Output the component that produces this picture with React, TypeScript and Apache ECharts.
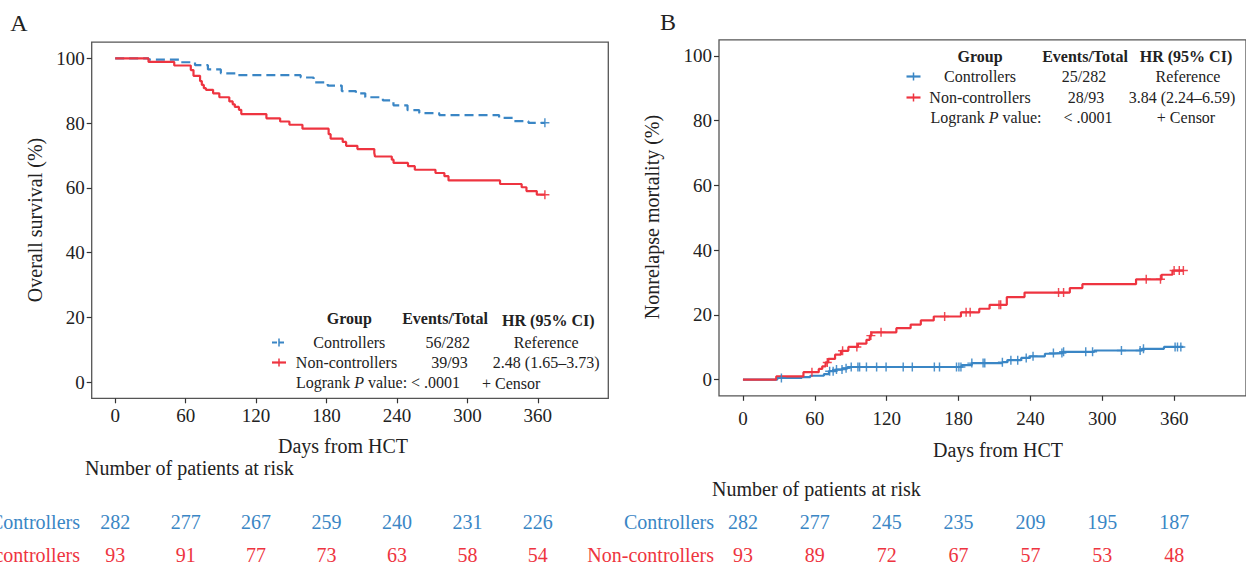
import React, { useEffect, useRef } from "react";
import * as echarts from "echarts";

const FONT = "'Liberation Serif', 'Times New Roman', serif";
const BLUE = "#3A86C5";
const RED = "#EE3440";
const INK = "#222222";

const tickDays = [0, 60, 120, 180, 240, 300, 360];
const yTicks = [0, 20, 40, 60, 80, 100];

// Panel A: overall survival (%)
const osCtrlDays = [0, 28.4, 54.6, 68, 79, 90, 104, 158, 169, 181, 193, 205, 213, 228, 237, 249, 259, 276, 327, 340, 352, 366];
const osCtrlVals = [100, 99.6, 98.8, 97.9, 96.6, 95.4, 94.8, 94.1, 92.6, 91.6, 89.9, 89.2, 88.0, 87.0, 85.5, 84.0, 83.1, 82.5, 81.6, 80.6, 80.1, 80.1];
const osNonDays = [0, 28.4, 50.3, 64.4, 66.7, 72.3, 73.8, 75.5, 77.3, 83.4, 88.7, 97.2, 100.1, 101.9, 105.4, 107.4, 128.8, 140.5, 148.4, 159.5, 181.8, 183.5, 193.8, 196.7, 206.3, 220.7, 221.3, 235.6, 237.1, 249.4, 255.2, 272.8, 280.4, 283.9, 327.8, 346.2, 350.3, 359.1, 366];
const osNonVals = [100, 98.9, 97.8, 96.4, 94.6, 93.0, 91.8, 90.8, 90.3, 89.2, 88.0, 86.7, 85.8, 85.0, 84.1, 82.8, 81.5, 80.5, 79.5, 78.3, 76.6, 75.2, 74.2, 73.0, 72.0, 70.8, 69.7, 68.7, 67.7, 66.7, 65.6, 64.6, 63.6, 62.3, 61.2, 60.2, 59.0, 57.9, 57.9];
const osCtrlCensor = [366];
const osNonCensor = [366];

// Panel B: nonrelapse mortality (%)
const nrmCtrlDays = [0, 28.7, 49.1, 56.2, 67.6, 71.8, 77.5, 83.2, 87.5, 182.6, 191.1, 216.6, 220.9, 232.3, 239.4, 252.1, 259.2, 267.2, 293.3, 333.1, 351.5, 367.7];
const nrmCtrlVals = [0, 0.5, 0.8, 1.2, 1.7, 2.6, 3.1, 3.5, 3.9, 4.5, 5.1, 5.4, 6.0, 6.7, 7.2, 8.0, 8.2, 8.6, 9.0, 9.5, 10.1, 10.1];
const nrmNonDays = [0, 27.8, 50.5, 63.3, 66.2, 69.0, 71.3, 76.9, 81.8, 88.0, 96.0, 103.1, 105.9, 107.3, 128.1, 140.0, 148.5, 159.3, 182.0, 197.3, 205.9, 220.3, 235.1, 272.9, 283.4, 328.2, 349.5, 358.6, 367.7];
const nrmNonVals = [0, 1.0, 2.3, 3.3, 4.1, 5.3, 6.4, 7.7, 8.9, 10.1, 11.1, 12.3, 13.6, 14.6, 15.9, 17.0, 18.3, 19.5, 20.8, 21.9, 23.1, 25.5, 26.9, 28.3, 29.5, 31.0, 32.4, 33.7, 33.7];
const nrmCtrlCensor = [32.1, 72.4, 75.3, 78.1, 82.7, 86.1, 90.4, 96.0, 97.4, 103.1, 111.6, 119.5, 133.8, 141.4, 159.8, 164.1, 178.3, 180.3, 182.0, 191.1, 200.5, 201.9, 216.6, 223.7, 229.4, 236.5, 242.2, 259.2, 266.3, 267.7, 286.2, 291.9, 316.0, 331.6, 334.4, 360.8, 362.8, 365.6];
const nrmNonCensor = [57.6, 70.4, 83.2, 95.1, 106.8, 115.3, 168.4, 186.3, 189.7, 213.8, 215.2, 263.5, 267.7, 336.7, 348.6, 360.0, 364.3, 367.7];

// Number at risk
const riskA_ctrl = [282, 277, 267, 259, 240, 231, 226];
const riskA_non = [93, 91, 77, 73, 63, 58, 54];
const riskB_ctrl = [282, 277, 245, 235, 209, 195, 187];
const riskB_non = [93, 89, 72, 67, 57, 53, 48];

const PLUS = "path://M4.2,0H5.8V4.2H10V5.8H5.8V10H4.2V5.8H0V4.2H4.2Z";

function stepAt(days: number[], vals: number[], t: number) {
  let v = vals[0];
  for (let i = 0; i < days.length; i++) if (days[i] <= t) v = vals[i];
  return v;
}

function lineSeries(idx: number, days: number[], vals: number[], color: string, dashed: boolean) {
  return {
    type: "line",
    xAxisIndex: idx,
    yAxisIndex: idx,
    step: "end",
    showSymbol: false,
    symbol: "none",
    silent: true,
    data: days.map((d, i) => [d, vals[i]]),
    lineStyle: { color, width: 2.2, type: dashed ? [9, 5] : "solid" },
    z: 3,
  };
}

function censorSeries(idx: number, cens: number[], days: number[], vals: number[], color: string) {
  return {
    type: "scatter",
    xAxisIndex: idx,
    yAxisIndex: idx,
    symbol: PLUS,
    symbolSize: 9,
    silent: true,
    itemStyle: { color, opacity: 0.9 },
    data: cens.map((t) => [t, stepAt(days, vals, t)]),
    z: 4,
  };
}

function xAxisCfg(idx: number, margin: number) {
  return {
    gridIndex: idx,
    type: "value",
    position: "bottom",
    min: -20,
    max: 420,
    axisLine: { show: false, onZero: false },
    splitLine: { show: false },
    axisTick: { show: true, length: 5, lineStyle: { color: "#333", width: 1.2 }, customValues: tickDays },
    axisLabel: { customValues: tickDays, fontSize: 19, color: INK, margin, fontFamily: FONT },
  };
}

function yAxisCfg(idx: number) {
  return {
    gridIndex: idx,
    type: "value",
    position: "left",
    min: -5,
    max: 105,
    axisLine: { show: false, onZero: false },
    splitLine: { show: false },
    axisTick: { show: true, length: 5, lineStyle: { color: "#333", width: 1.2 }, customValues: yTicks },
    axisLabel: { customValues: yTicks, fontSize: 19, color: INK, margin: 7, fontFamily: FONT },
  };
}

function fontStr(o: any) {
  return `${o.italic ? "italic " : ""}${o.bold ? "bold " : ""}${o.size || 16}px ${FONT}`;
}

function txt(x: number, y: number, s: string, o: any = {}) {
  const align = o.align || "center";
  const va = o.va || "middle";
  return {
    type: "text",
    x,
    y,
    rotation: o.rotation || 0,
    silent: true,
    style: {
      text: s,
      fill: o.color || INK,
      font: fontStr(o),
      align,
      verticalAlign: va,
      textAlign: align,
      textVerticalAlign: va,
    },
  };
}

let measureCtx: CanvasRenderingContext2D | null = null;
function measure(s: string, o: any) {
  if (!measureCtx) measureCtx = document.createElement("canvas").getContext("2d");
  measureCtx!.font = fontStr(o);
  return measureCtx!.measureText(s).width;
}

// pieces laid out left to right starting at x
function runs(x: number, y: number, parts: { s: string; o?: any }[]) {
  const out: any[] = [];
  let cx = x;
  parts.forEach((p) => {
    const o = { ...(p.o || {}), align: "left" };
    out.push(txt(cx, y, p.s, o));
    cx += measure(p.s, o);
  });
  return out;
}
function runsCentered(xc: number, y: number, parts: { s: string; o?: any }[]) {
  const w = parts.reduce((a, p) => a + measure(p.s, { ...(p.o || {}) }), 0);
  return runs(xc - w / 2, y, parts);
}

function marker(cx: number, cy: number, color: string, dashed: boolean) {
  return [
    {
      type: "line",
      silent: true,
      shape: { x1: cx - 7, y1: cy, x2: cx + 7, y2: cy },
      style: { stroke: color, lineWidth: 2.2, lineDash: dashed ? [5, 2] : null },
    },
    {
      type: "line",
      silent: true,
      shape: { x1: cx, y1: cy - 4, x2: cx, y2: cy + 4 },
      style: { stroke: color, lineWidth: 1.5 },
    },
  ];
}

export default function App() {
  const ref = useRef<HTMLDivElement>(null);
  useEffect(() => {
    const chart = echarts.init(ref.current!, null, { renderer: "svg" });
    chart.setOption({
      animation: false,
      textStyle: { fontFamily: FONT },
      grid: [
        { left: 91.7, top: 42.2, width: 516.6, height: 356.1, show: true, borderColor: "#555", borderWidth: 1.3, backgroundColor: "transparent" },
        { left: 719, top: 39.8, width: 534, height: 356, show: true, borderColor: "#555", borderWidth: 1.3, backgroundColor: "transparent" },
      ],
      xAxis: [xAxisCfg(0, 8), xAxisCfg(1, 13)],
      yAxis: [yAxisCfg(0), yAxisCfg(1)],
      series: [
        lineSeries(0, osCtrlDays, osCtrlVals, BLUE, true),
        lineSeries(0, osNonDays, osNonVals, RED, false),
        censorSeries(0, osCtrlCensor, osCtrlDays, osCtrlVals, BLUE),
        censorSeries(0, osNonCensor, osNonDays, osNonVals, RED),
        lineSeries(1, nrmCtrlDays, nrmCtrlVals, BLUE, false),
        lineSeries(1, nrmNonDays, nrmNonVals, RED, false),
        censorSeries(1, nrmCtrlCensor, nrmCtrlDays, nrmCtrlVals, BLUE),
        censorSeries(1, nrmNonCensor, nrmNonDays, nrmNonVals, RED),
      ],
    });

    const gx = (i: number, d: number) => chart.convertToPixel({ xAxisIndex: i } as any, d) as unknown as number;
    const els: any[] = [];
    // panel letters & axis titles
    els.push(txt(19, 23, "A", { size: 24 }));
    els.push(txt(668, 22, "B", { size: 24 }));
    els.push(txt(35, 220, "Overall survival (%)", { size: 20, rotation: Math.PI / 2 }));
    els.push(txt(652, 217, "Nonrelapse mortality (%)", { size: 20, rotation: Math.PI / 2 }));
    els.push(txt(343, 446, "Days from HCT", { size: 20 }));
    els.push(txt(998, 450, "Days from HCT", { size: 20 }));

    // at-risk tables
    els.push(txt(85, 468, "Number of patients at risk", { size: 20, align: "left" }));
    els.push(txt(712, 489, "Number of patients at risk", { size: 20, align: "left" }));
    els.push(txt(80, 522, "Controllers", { size: 20, align: "right", color: BLUE }));
    els.push(txt(80, 555, "Non-controllers", { size: 20, align: "right", color: RED }));
    els.push(txt(714, 522, "Controllers", { size: 20, align: "right", color: BLUE }));
    els.push(txt(714, 555, "Non-controllers", { size: 20, align: "right", color: RED }));
    tickDays.forEach((d, k) => {
      const xa = gx(0, d);
      const xb = gx(1, d);
      els.push(txt(xa, 522, String(riskA_ctrl[k]), { size: 20, color: BLUE }));
      els.push(txt(xa, 555, String(riskA_non[k]), { size: 20, color: RED }));
      els.push(txt(xb, 522, String(riskB_ctrl[k]), { size: 20, color: BLUE }));
      els.push(txt(xb, 555, String(riskB_non[k]), { size: 20, color: RED }));
    });

    // legend A
    els.push(txt(349.3, 318, "Group", { bold: true }));
    els.push(txt(445, 318, "Events/Total", { bold: true }));
    els.push(txt(548.3, 320, "HR (95% CI)", { bold: true }));
    els.push(...marker(279, 342.5, BLUE, true));
    els.push(txt(349.3, 342.5, "Controllers"));
    els.push(txt(447.8, 342.5, "56/282"));
    els.push(txt(546.2, 342.5, "Reference"));
    els.push(...marker(279, 362.5, RED, false));
    els.push(txt(346.5, 362.5, "Non-controllers"));
    els.push(txt(449.5, 362.5, "39/93"));
    els.push(txt(546.2, 362.5, "2.48 (1.65\u20133.73)"));
    els.push(...runs(296, 382, [{ s: "Logrank " }, { s: "P", o: { italic: true } }, { s: " value: < .0001" }]));
    els.push(txt(482, 383, "+ Censor", { align: "left" }));

    // legend B
    els.push(txt(980, 56, "Group", { bold: true }));
    els.push(txt(1085, 56, "Events/Total", { bold: true }));
    els.push(txt(1186, 56, "HR (95% CI)", { bold: true }));
    els.push(...marker(913.5, 76.5, BLUE, false));
    els.push(txt(980, 76.5, "Controllers"));
    els.push(txt(1084, 76.5, "25/282"));
    els.push(txt(1188, 76.5, "Reference"));
    els.push(...marker(913.5, 97.5, RED, false));
    els.push(txt(980, 97.5, "Non-controllers"));
    els.push(txt(1086, 97.5, "28/93"));
    els.push(txt(1182, 97.5, "3.84 (2.24\u20136.59)"));
    els.push(...runsCentered(986, 117.5, [{ s: "Logrank " }, { s: "P", o: { italic: true } }, { s: " value:" }]));
    els.push(txt(1088, 117.5, "< .0001"));
    els.push(txt(1186, 117.5, "+ Censor"));

    chart.setOption({ graphic: { elements: els } });
    return () => chart.dispose();
  }, []);
  return <div ref={ref} style={{ position: "absolute", left: 0, top: 0, width: 1246, height: 565 }} />;
}
